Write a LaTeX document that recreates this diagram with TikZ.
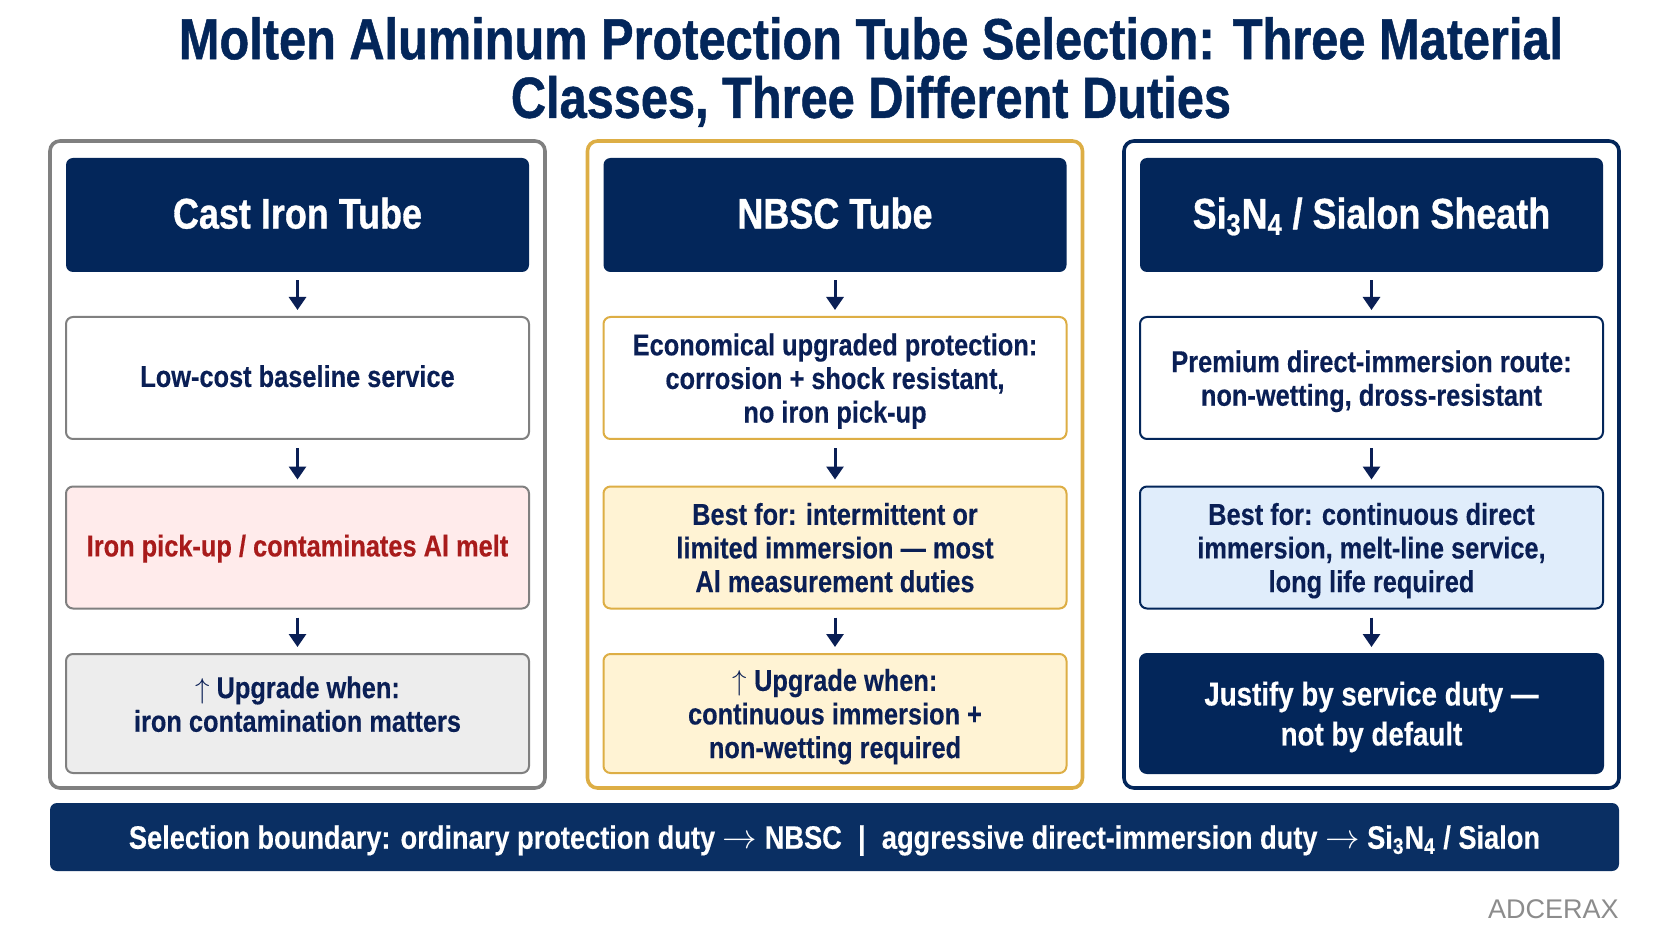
\documentclass[tikz,border=0pt]{standalone}
\usepackage{fontspec}
\setmainfont{Liberation Sans}
\newfontfamily\narrowbold[FakeStretch=0.84, FakeBold=0.3]{Liberation Sans Bold}
\newfontfamily\heavybold[FakeStretch=0.84, FakeBold=0.8]{Liberation Sans Bold}
\usetikzlibrary{arrows.meta}

\definecolor{navy}{HTML}{03265A}
\definecolor{inkblue}{HTML}{0A1F55}
\definecolor{barblue}{HTML}{0A2F63}
\definecolor{framegray}{HTML}{808080}
\definecolor{gold}{HTML}{DDAE45}
\definecolor{paleyellow}{HTML}{FFF3D4}
\definecolor{paleblue}{HTML}{E0EDFB}
\definecolor{alertred}{HTML}{A81B1B}

\tikzset{
  frame/.style={draw, line width=1.8pt, rounded corners=5pt, minimum width=247.5pt, minimum height=323.5pt},
  cardbox/.style={rounded corners=3.5pt, minimum width=231.5pt, align=center, inner sep=0pt, text=inkblue, text depth=0pt,
    font=\narrowbold\fontsize{15.1}{16.8}\selectfont},
  headbox/.style={cardbox, fill=navy, text=white, minimum height=57pt, text depth=2pt, font=\heavybold\fontsize{21.4}{24}\selectfont},
  stepbox/.style={cardbox, draw, line width=1pt, minimum height=61pt},
  lastbox/.style={cardbox, draw, line width=1pt, minimum height=59.5pt},
  flow/.style={-{Triangle[width=8.5pt, length=6.5pt]}, line width=1.5pt, color=inkblue, shorten <=4pt, shorten >=3pt},
}

\begin{document}
\begin{tikzpicture}[x=0.5pt, y=-0.5pt]
  \useasboundingbox [fill=white] (0, 0) rectangle (1672, 941);

  \node [align=center, text=navy, font=\heavybold\fontsize{29}{29.3}\selectfont] (title) at (871, 72) {Molten Aluminum Protection Tube Selection: Three Material\\Classes, Three Different Duties};

  % outer frames
  \node [frame, draw=framegray] (castframe) at (297.5, 464.5) {};
  \node [frame, draw=gold] (nbscframe) at (835, 464.5) {};
  \node [frame, draw=navy] (sialonframe) at (1371.5, 464.5) {};

  % cast iron column
  \node [headbox] (casthead) at (297.5, 215) {Cast Iron Tube};
  \node [stepbox, draw=framegray, text depth=2pt] (castone) at (297.5, 378) {Low-cost baseline service};
  \node [stepbox, draw=framegray, fill=red!8!white, text=alertred, text depth=2pt] (casttwo) at (297.5, 547.5) {Iron pick-up / contaminates Al melt};
  \node [lastbox, draw=framegray, fill=black!7!white, text depth=9.5pt] (castthree) at (297.5, 713.5) {$\uparrow$ Upgrade when:\\iron contamination matters};
  \draw [flow] (casthead) -- (castone);
  \draw [flow] (castone) -- (casttwo);
  \draw [flow] (casttwo) -- (castthree);

  % nbsc column
  \node [headbox] (nbschead) at (835, 215) {NBSC Tube};
  \node [stepbox, draw=gold] (nbscone) at (835, 378) {Economical upgraded protection:\\corrosion + shock resistant,\\no iron pick-up};
  \node [stepbox, draw=gold, fill=paleyellow] (nbsctwo) at (835, 547.5) {Best for: intermittent or\\limited immersion — most\\Al measurement duties};
  \node [lastbox, draw=gold, fill=paleyellow] (nbscthree) at (835, 713.5) {$\uparrow$ Upgrade when:\\continuous immersion +\\non-wetting required};
  \draw [flow] (nbschead) -- (nbscone);
  \draw [flow] (nbscone) -- (nbsctwo);
  \draw [flow] (nbsctwo) -- (nbscthree);

  % sialon column
  \node [headbox] (sialonhead) at (1371.5, 215) {Si\textsubscript{3}N\textsubscript{4} / Sialon Sheath};
  \node [stepbox, draw=navy] (sialonone) at (1371.5, 378) {Premium direct-immersion route:\\non-wetting, dross-resistant};
  \node [stepbox, draw=navy, fill=paleblue] (sialontwo) at (1371.5, 547.5) {Best for: continuous direct\\immersion, melt-line service,\\long life required};
  \node [lastbox, draw=navy, fill=navy, text=white, font=\narrowbold\fontsize{16.5}{20}\selectfont] (sialonthree) at (1371.5, 713.5) {Justify by service duty —\\not by default};
  \draw [flow] (sialonhead) -- (sialonone);
  \draw [flow] (sialonone) -- (sialontwo);
  \draw [flow] (sialontwo) -- (sialonthree);

  \node [cardbox, fill=barblue, text=white, minimum width=784.5pt, minimum height=34pt, font=\narrowbold\fontsize{16.2}{18}\selectfont] (boundary) at (834.5, 837) {Selection boundary: ordinary protection duty $\rightarrow$ NBSC\enspace|\enspace aggressive direct-immersion duty $\rightarrow$ Si\textsubscript{3}N\textsubscript{4} / Sialon};

  \node [anchor=south east, inner sep=0pt, text=black!45!white, font=\fontsize{13.5}{15}\selectfont] (brand) at (1619, 919) {ADCERAX};
\end{tikzpicture}
\end{document}
